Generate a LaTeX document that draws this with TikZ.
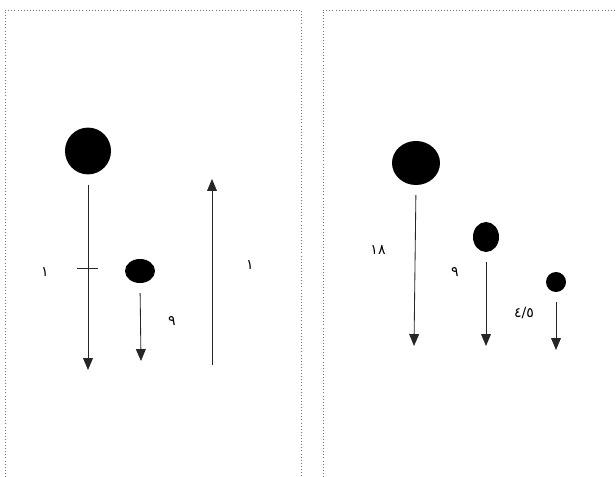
\documentclass[tikz,border=0pt]{standalone}
\usepackage{fontspec}
\usepackage{tikz}
\usetikzlibrary{arrows.meta,shapes.geometric}
\newfontfamily\arabicfont[Script=Arabic]{DejaVu Sans}

\begin{document}
\begin{tikzpicture}[x=0.025cm, y=-0.025cm,
  frame/.style={draw=black!55, line width=0.7pt, dash pattern=on 0.7pt off 1.5pt},
  mass/.style={ellipse, fill=black, draw=none, inner sep=0pt},
  force/.style={draw=black!85, line width=0.6pt, -{Triangle[length=8.5pt,width=7pt]}, shorten <=7pt},
  lbl/.style={font=\arabicfont}]
\useasboundingbox (0,0) rectangle (616,477);
% frames
\draw[frame] (5,477) -- (5,10) -- (301,10) -- (301,477);
\draw[frame] (323,477) -- (323,10) -- (616,10);
% left: falling masses
\node[mass, minimum width=1.15cm, minimum height=1.17cm] (m1) at (88,151) {};
\coordinate (e1) at (88,370);
\draw[force] (m1.south) -- (e1);
\coordinate (tk) at (88,268);
\draw[draw=black!85, line width=0.6pt] ([xshift=-8pt]tk) -- ([xshift=7pt]tk);
\node[lbl] (l1) at (45,272) {١};
\node[mass, minimum width=0.75cm, minimum height=0.6cm] (m2) at (140,271) {};
\coordinate (e2) at (141,361);
\draw[force] (m2.south) -- (e2);
\node[lbl] (l2) at (172,321) {٩};
\coordinate (b3) at (212,365);
\coordinate (e3) at (212,179);
\draw[force, shorten <=0pt] (b3) -- (e3);
\node[lbl] (l3) at (250,265) {١};
% right: three masses
\node[mass, minimum width=1.2cm, minimum height=1.1cm] (m4) at (416,163) {};
\coordinate (e4) at (414,346);
\draw[force] (m4.south) -- (e4);
\node[lbl] (l4) at (378,250) {١٨};
\node[mass, minimum width=0.65cm, minimum height=0.75cm] (m5) at (486,237) {};
\coordinate (e5) at (486,346);
\draw[force] (m5.south) -- (e5);
\node[lbl] (l5) at (455,272) {٩};
\node[mass, minimum width=0.5cm, minimum height=0.5cm] (m6) at (556,282) {};
\coordinate (e6) at (556,350);
\draw[force] (m6.south) -- (e6);
\node[lbl] (l6) at (524,313) {٤/٥};
\end{tikzpicture}
\end{document}
